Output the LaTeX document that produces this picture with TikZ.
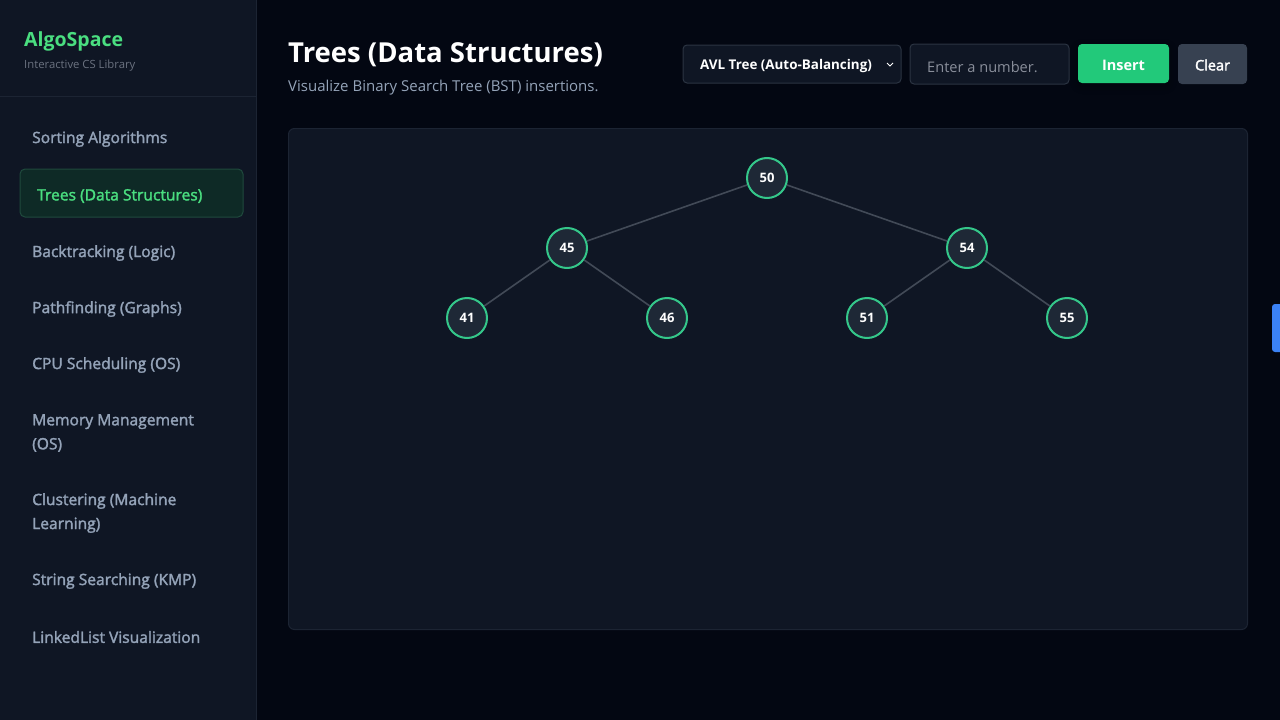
\documentclass[tikz,border=0pt]{standalone}
\usepackage{fontspec}
\setmainfont{Open Sans}
\newfontfamily\semib[FakeBold=2]{Open Sans}
\usetikzlibrary{shadows.blur}
\definecolor{pagebg}{HTML}{030712}
\definecolor{sidebg}{HTML}{0F1624}
\definecolor{panelbg}{HTML}{0F1624}
\definecolor{panelline}{HTML}{1C2433}
\definecolor{accent}{HTML}{4ADE80}
\definecolor{navtxt}{HTML}{94A3B8}
\definecolor{subtxt}{HTML}{6B7280}
\definecolor{nodefill}{HTML}{1E2836}
\definecolor{nodering}{HTML}{34C78A}
\definecolor{edgecol}{HTML}{424A57}
\definecolor{btngreen}{HTML}{22C97A}
\definecolor{btngray}{HTML}{374151}
\definecolor{ctrlbg}{HTML}{0F1624}
\definecolor{ctrlline}{HTML}{2B3442}
\definecolor{activebg}{HTML}{0E2A26}
\definecolor{activeline}{HTML}{1F4A3D}
\definecolor{tabblue}{HTML}{3B82F6}
\tikzset{
  navitem/.style={anchor=west, inner sep=0pt, text=navtxt, font=\semib\fontsize{15.6}{24}\selectfont, align=left},
  treenode/.style={circle, minimum size=40pt, inner sep=0pt, fill=nodefill, draw=nodering, line width=2pt, text=white, font=\bfseries\fontsize{13}{13}\selectfont},
  treeedge/.style={draw=edgecol, line width=1.6pt},
  ctrlbox/.style={rounded corners=4pt, fill=ctrlbg, draw=ctrlline, line width=1pt},
}
\begin{document}
\begin{tikzpicture}[x=1pt,y=-1pt]
\useasboundingbox (0,0) rectangle (1280,720);
% backgrounds
\fill[pagebg] (0,0) rectangle (1280,720);
\fill[sidebg] (0,0) rectangle (256,720);
\draw[panelline, line width=1pt] (256,0) -- (256,720);
\draw[panelline, line width=1pt] (0,96.5) -- (256,96.5);
% brand
\node[anchor=west, inner sep=0pt, text=accent, font=\bfseries\fontsize{19.5}{19.5}\selectfont] (brand) at (24,41.5) {AlgoSpace};
\node[anchor=west, inner sep=0pt, text=subtxt, font=\fontsize{11.3}{11.3}\selectfont] (tagline) at (24,66) {Interactive CS Library};
% active nav box
\draw[fill=activebg, draw=activeline, line width=1pt, rounded corners=5pt] (20,169) rectangle (243,217);
% nav items
\node[navitem] (n1) at (32,139) {Sorting Algorithms};
\node[navitem, text=accent] (n2) at (37,196) {Trees (Data Structures)};
\node[navitem] (n3) at (32,253) {Backtracking (Logic)};
\node[navitem] (n4) at (32,309) {Pathfinding (Graphs)};
\node[navitem] (n5) at (32,365) {CPU Scheduling (OS)};
\node[navitem] (n6) at (32,433) {Memory Management\\(OS)};
\node[navitem] (n7) at (32,513) {Clustering (Machine\\Learning)};
\node[navitem] (n8) at (32,581) {String Searching (KMP)};
\node[navitem] (n9) at (32,637) {LinkedList Visualization};
% title
\node[anchor=west, inner sep=0pt, text=white, font=\bfseries\fontsize{27.5}{27.5}\selectfont] (title) at (288,55) {Trees (Data Structures)};
\node[anchor=west, inner sep=0pt, text=navtxt, font=\fontsize{15}{15}\selectfont] (subtitle) at (288,87.5) {Visualize Binary Search Tree (BST) insertions.};
% controls
\draw[ctrlbox] (683,45) rectangle (901,83);
\node[anchor=west, inner sep=0pt, text=white, font=\bfseries\fontsize{13.4}{13.4}\selectfont] (sel) at (700,66.5) {AVL Tree (Auto-Balancing)};
\draw[white, line width=1pt] (887,63) -- (890,66) -- (893,63);
\draw[ctrlbox] (910,44) rectangle (1069,84);
\node[anchor=west, inner sep=0pt, text=subtxt!80!white, font=\fontsize{14.6}{14.6}\selectfont] (inp) at (927,67) {Enter a number.};
\fill[btngreen, rounded corners=4pt, blur shadow={shadow xshift=0pt, shadow yshift=-3pt, shadow blur radius=8pt, shadow opacity=35, shadow blur steps=10}] (1078,44) rectangle (1169,83);
\node[text=white, font=\bfseries\fontsize{14.5}{14.5}\selectfont] (ins) at (1123.5,65) {Insert};
\fill[btngray, rounded corners=4pt] (1178,44) rectangle (1247,84);
\node[text=white, font=\semib\fontsize{14.5}{14.5}\selectfont] (clr) at (1212.5,65) {Clear};
% panel
\draw[fill=panelbg, draw=panelline, line width=1pt, rounded corners=6pt] (288.5,128.5) rectangle (1247.5,629.5);
% right tab
\fill[tabblue, rounded corners=3pt] (1272,304) rectangle (1290,352);
% tree
\node[treenode] (t50) at (767,178) {50};
\node[treenode] (t45) at (567,248) {45};
\node[treenode] (t54) at (967,248) {54};
\node[treenode] (t41) at (467,318) {41};
\node[treenode] (t46) at (667,318) {46};
\node[treenode] (t51) at (867,318) {51};
\node[treenode] (t55) at (1067,318) {55};
\draw[treeedge] (t50) -- (t45);
\draw[treeedge] (t50) -- (t54);
\draw[treeedge] (t45) -- (t41);
\draw[treeedge] (t45) -- (t46);
\draw[treeedge] (t54) -- (t51);
\draw[treeedge] (t54) -- (t55);
\end{tikzpicture}
\end{document}
